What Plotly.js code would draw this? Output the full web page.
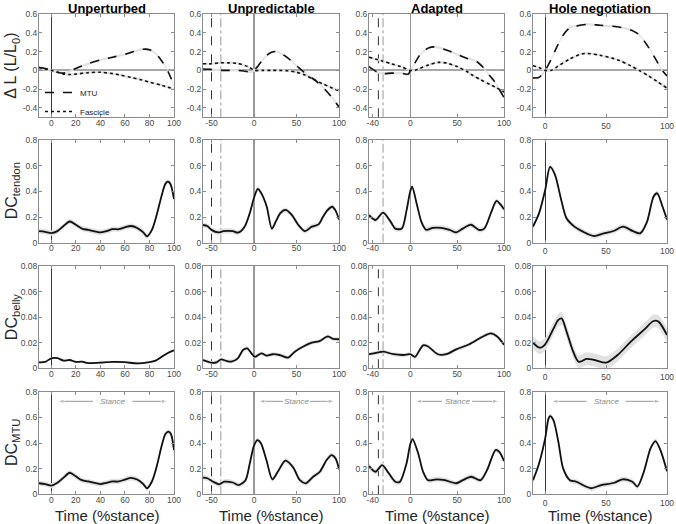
<!DOCTYPE html>
<html><head><meta charset="utf-8">
<script src="https://cdn.plot.ly/plotly-3.0.1.min.js"></script>
<style>html,body{margin:0;padding:0;background:#fff}#chart{width:676px;height:524px}</style>
</head><body><div id="chart"></div>
<script>
// ---------- DATA ----------
const conditions = ['Unperturbed', 'Unpredictable', 'Adapted', 'Hole negotiation'];
const rowTitles = ['Δ L (L/L<sub>0</sub>)', 'DC<sub>tendon</sub>', 'DC<sub>belly</sub>', 'DC<sub>MTU</sub>'];
const xTitle = 'Time (%stance)';
const seriesNames = ['MTU', 'Fascicle'];
const stanceLabel = 'Stance';

const xTickVals = [[0,20,40,60,80,100],[-50,0,50,100],[-40,0,50,100],[0,50,100]];
const xTickText = [['0','20','40','60','80','100'],['-50','0','50','100'],['-40','0','50','100'],['0','50','100']];
const yTickVals = [[-0.4,-0.2,0,0.2,0.4,0.6],[0,0.2,0.4,0.6,0.8],[0,0.02,0.04,0.06,0.08],[0,0.2,0.4,0.6,0.8]];
const yTickText = [['-0.4','-0.2','0','0.2','0.4','0.6'],['0','0.2','0.4','0.6','0.8'],['0','0.02','0.04','0.06','0.08'],['0','0.2','0.4','0.6','0.8']];

// event markers (% stance) per condition
const eventDashed  = [null, -50, -34, null];
const eventDashDot = [null, -39, -29, null];
// stance arrow: [tail, head] pairs (% stance) and height
const stanceLeft  = [34, 5];
const stanceRight = [66, 95];
const stanceY = 0.725;

// Row 1: length change
const unp_mtu_x = [-10,-5,0,5,10,15,20,30,40,50,60,70,75,80,85,90,95,100];
const unp_mtu   = [0.03,0.02,0,-0.02,-0.03,-0.01,0.02,0.07,0.11,0.14,0.17,0.21,0.225,0.22,0.18,0.1,-0.01,-0.16];
const unp_fas_x = [-10,-5,0,5,10,15,20,30,40,50,56,65,73,80,90,100];
const unp_fas   = [0.03,0.015,0,-0.02,-0.04,-0.045,-0.04,-0.025,-0.02,-0.035,-0.05,-0.075,-0.1,-0.125,-0.16,-0.2];

const upr_mtu_x = [-60,-50,-40,-30,-20,-10,-3,0,5,10,15,20,25,30,40,50,60,72,80,90,100];
const upr_mtu   = [0.015,0.01,0.0,0.0,0.0,-0.01,-0.02,0.0,0.05,0.11,0.16,0.19,0.2,0.19,0.13,0.05,-0.03,-0.107,-0.17,-0.27,-0.39];
const upr_fas_x = [-60,-50,-40,-30,-20,-10,-5,0,10,20,30,40,50,60,72,80,90,100];
const upr_fas   = [0.07,0.07,0.08,0.08,0.075,0.05,0.03,0.0,0.0,0.0,0.0,-0.005,-0.02,-0.05,-0.105,-0.14,-0.18,-0.22];

const ada_mtu_x = [-44,-40,-35,-30,-20,-10,-2,0,5,10,15,20,25,30,40,50,60,70,77,85,90,100];
const ada_mtu   = [0.04,0.01,-0.02,-0.035,-0.03,-0.03,-0.04,0.0,0.08,0.16,0.21,0.24,0.25,0.245,0.21,0.17,0.13,0.1,0.04,-0.06,-0.12,-0.29];
const ada_fas_x = [-44,-30,-20,-10,0,5,10,20,30,40,50,60,66,75,85,91,100];
const ada_fas   = [0.14,0.1,0.07,0.04,0.0,0.0,0.02,0.06,0.085,0.075,0.04,-0.01,-0.05,-0.1,-0.15,-0.18,-0.23];

const hol_mtu_x = [-10,-5,0,5,10,15,20,25,35,45,55,65,72,77,82,87,92,96,100];
const hol_mtu   = [-0.08,-0.075,0.0,0.12,0.26,0.38,0.45,0.47,0.49,0.48,0.47,0.45,0.42,0.38,0.3,0.2,0.09,0.0,-0.06];
const hol_fas_x = [-10,-5,0,5,10,20,30,35,45,55,61,70,77,85,92,100];
const hol_fas   = [0.05,0.03,0.0,0.0,0.04,0.12,0.175,0.18,0.16,0.13,0.105,0.05,0.0,-0.06,-0.12,-0.19];

// Row 2: DC tendon
const unp_ten_x = [-10,-5,0,5,10,15,20,25,30,40,45,50,55,60,65,70,75,78,82,86,90,93,95,97,100];
const unp_ten   = [0.09,0.085,0.075,0.09,0.13,0.165,0.14,0.11,0.1,0.08,0.09,0.105,0.105,0.12,0.13,0.115,0.08,0.05,0.1,0.22,0.37,0.46,0.475,0.46,0.34];
const upr_ten_x = [-60,-55,-50,-42,-36,-25,-19,-11,-5,0,4.5,9,15,21,26,31,37,44,52,60,68,76,81,86,92,96,100];
const upr_ten   = [0.138,0.13,0.1,0.08,0.09,0.09,0.078,0.125,0.23,0.35,0.42,0.38,0.28,0.11,0.17,0.23,0.255,0.22,0.14,0.09,0.125,0.143,0.2,0.25,0.28,0.25,0.18];
const ada_ten_x = [-44,-37,-29,-21,-16,-9,-4,0,2,7,12,17,24,33,42,49,56,65,73,79,86,92,96,100];
const ada_ten   = [0.215,0.177,0.234,0.164,0.11,0.11,0.25,0.4,0.436,0.3,0.16,0.1,0.115,0.115,0.1,0.08,0.11,0.14,0.1,0.11,0.23,0.325,0.3,0.26];
const hol_ten_x = [-10,-5,0,4,8,13.5,17.5,24,31,40,48,56,64,72,78,83.5,89,92,96,100];
const hol_ten   = [0.125,0.23,0.41,0.59,0.53,0.32,0.19,0.125,0.086,0.052,0.073,0.091,0.125,0.09,0.073,0.16,0.36,0.385,0.29,0.18];

// Row 3: DC belly
const unp_bel_x = [-10,-5,0,5,10,15,20,25,30,40,50,60,70,80,85,90,95,100];
const unp_bel   = [0.0047,0.005,0.0078,0.008,0.006,0.0065,0.005,0.0052,0.004,0.0045,0.005,0.0048,0.0038,0.0048,0.006,0.009,0.012,0.014];
const upr_bel_x = [-60,-50,-44,-38.7,-32.5,-26.7,-19,-13,-8,-3,1,5,9,15,22,30,40,48,58,68,77,87,93,100];
const upr_bel   = [0.0065,0.0044,0.0047,0.007,0.0058,0.0053,0.0078,0.0143,0.0156,0.0117,0.009,0.0104,0.0117,0.0099,0.011,0.0104,0.0083,0.013,0.017,0.02,0.0213,0.025,0.023,0.0227];
const ada_bel_x = [-44,-34,-28.5,-18,-7.4,0,5,13.7,19,29.5,38.4,49,63,77,86,93,100];
const ada_bel   = [0.011,0.0125,0.013,0.011,0.0104,0.011,0.009,0.018,0.017,0.011,0.011,0.0148,0.0188,0.0247,0.0273,0.0247,0.0185];
const hol_bel_x = [-10,-4.6,0,6.8,10.8,13.5,17.6,23,27.6,33.8,40.5,50,59.5,70.3,81,89,93,100];
const hol_bel   = [0.02,0.0161,0.0188,0.031,0.0378,0.039,0.0286,0.013,0.005,0.0073,0.0065,0.0044,0.0104,0.0208,0.03,0.037,0.0365,0.026];

// Row 4: DC MTU
const unp_dmt_x = [-10,-5,0,5,10,15,20,25,30,40,45,50,55,60,65,70,75,78,82,86,90,93,95.5,97.5,100];
const unp_dmt   = [0.086,0.08,0.068,0.09,0.13,0.168,0.14,0.11,0.1,0.08,0.09,0.1,0.1,0.115,0.128,0.115,0.08,0.047,0.1,0.22,0.38,0.47,0.488,0.47,0.345];
const upr_dmt_x = [-60,-55,-48,-41,-35,-25,-18,-10,-5,0,4,8,14.6,21.6,28,37,46,54,61,69.6,77.5,85.4,91.3,96,100];
const upr_dmt   = [0.13,0.125,0.098,0.078,0.098,0.092,0.072,0.11,0.24,0.38,0.423,0.4,0.267,0.117,0.176,0.262,0.21,0.11,0.086,0.137,0.176,0.267,0.306,0.28,0.195];
const ada_dmt_x = [-44,-37,-30,-23,-16,-11,-4,0,2.5,8.4,13.7,19,28,37,49,56,65,75,82,91,95,100];
const ada_dmt   = [0.22,0.176,0.228,0.164,0.098,0.098,0.24,0.39,0.43,0.32,0.176,0.11,0.117,0.11,0.086,0.11,0.137,0.11,0.19,0.345,0.33,0.26];
const hol_dmt_x = [-10,-5.4,0,2.7,4,6.7,10.8,14.8,20.3,25.6,32.4,37.8,46,56.8,63.5,71.6,75.7,81,86.5,90.5,94.6,100];
const hol_dmt   = [0.11,0.228,0.436,0.59,0.61,0.58,0.41,0.2,0.11,0.098,0.065,0.047,0.072,0.09,0.117,0.098,0.06,0.176,0.358,0.415,0.345,0.18];

// shaded band half-width (SE estimate) per row / column
const bandHalf = [[0.012,0.012,0.012,0.012],[0.02,0.02,0.02,0.02],[0.0008,0.0015,0.0015,0.005],[0.02,0.02,0.02,0.02]];

// ---------- LAYOUT GEOMETRY ----------
const W = 676, H = 524;
const colPx = [[39,174],[203,339],[369,504],[533,667]];
const rowPx = [[14,117.3],[140,242.7],[266,368.3],[391.7,494.3]];
const xRanges = [[-10,100],[-60,100],[-44,100],[-10,100]];
const yRanges = [[-0.5,0.6],[0,0.8],[0,0.08],[0,0.8]];

const panels = [
  [[{x:unp_mtu_x,y:unp_mtu,dash:'dash',name:seriesNames[0]},{x:unp_fas_x,y:unp_fas,dash:'dot',name:seriesNames[1]}],
   [{x:upr_mtu_x,y:upr_mtu,dash:'dash'},{x:upr_fas_x,y:upr_fas,dash:'dot'}],
   [{x:ada_mtu_x,y:ada_mtu,dash:'dash'},{x:ada_fas_x,y:ada_fas,dash:'dot'}],
   [{x:hol_mtu_x,y:hol_mtu,dash:'dash'},{x:hol_fas_x,y:hol_fas,dash:'dot'}]],
  [[{x:unp_ten_x,y:unp_ten}],[{x:upr_ten_x,y:upr_ten}],[{x:ada_ten_x,y:ada_ten}],[{x:hol_ten_x,y:hol_ten}]],
  [[{x:unp_bel_x,y:unp_bel}],[{x:upr_bel_x,y:upr_bel}],[{x:ada_bel_x,y:ada_bel}],[{x:hol_bel_x,y:hol_bel}]],
  [[{x:unp_dmt_x,y:unp_dmt}],[{x:upr_dmt_x,y:upr_dmt}],[{x:ada_dmt_x,y:ada_dmt}],[{x:hol_dmt_x,y:hol_dmt}]]
];

const FONT = 'Liberation Sans, Arial, Helvetica, sans-serif';
const AXC = '#8c8c8c';
const TICKF = {size: 8.5, color: '#4a4a4a'};
const traces = [];
const layout = {
  width: W, height: H, margin: {l:0, r:0, t:0, b:0},
  paper_bgcolor: '#fff', plot_bgcolor: '#fff',
  font: {family: FONT, size: 9, color: '#4a4a4a'},
  showlegend: true,
  legend: {x: 40/W, y: 1 - 78/H, xanchor: 'left', yanchor: 'top', bgcolor: 'rgba(0,0,0,0)',
           font: {size: 8, color: '#222'}, itemwidth: 30, tracegroupgap: 0},
  shapes: [], annotations: []
};

for (let r = 0; r < 4; r++) {
  for (let c = 0; c < 4; c++) {
    const n = r*4 + c + 1;
    const sfx = n === 1 ? '' : String(n);
    const xa = 'x' + sfx, ya = 'y' + sfx;
    const lightZero = (c === 1 || c === 2);
    const xax = {
      domain: [colPx[c][0]/W, colPx[c][1]/W], anchor: ya, range: xRanges[c],
      tickvals: xTickVals[c], ticktext: xTickText[c], ticklabeloverflow: 'allow',
      showline: true, linecolor: AXC, linewidth: 1, mirror: 'ticks',
      ticks: 'inside', ticklen: 3, tickcolor: AXC, showgrid: false,
      zeroline: true, zerolinecolor: lightZero ? '#9a9a9a' : '#3a3a3a', zerolinewidth: lightZero ? 1.5 : 1,
      tickfont: TICKF, fixedrange: true
    };
    if (c < 3) xax.ticklabelstandoff = -3;
    layout['xaxis' + sfx] = xax;
    layout['yaxis' + sfx] = {
      domain: [1 - rowPx[r][1]/H, 1 - rowPx[r][0]/H], anchor: xa, range: yRanges[r],
      tickvals: yTickVals[r], ticktext: yTickText[r], ticklabelstandoff: -1,
      showline: true, linecolor: AXC, linewidth: 1, mirror: 'ticks',
      ticks: 'inside', ticklen: 3, tickcolor: AXC, showgrid: false,
      zeroline: r === 0, zerolinecolor: '#a8a8a8', zerolinewidth: 2,
      tickfont: TICKF, fixedrange: true
    };
    // event lines
    if (eventDashed[c] !== null && !(r === 1 && c === 2)) {
      layout.shapes.push({type:'line', xref: xa, yref: ya + ' domain', x0: eventDashed[c], x1: eventDashed[c], y0: 0, y1: 1,
        line: {color: '#333', width: 1, dash: 'dash'}, layer: 'below'});
    }
    if (eventDashDot[c] !== null) {
      layout.shapes.push({type:'line', xref: xa, yref: ya + ' domain', x0: eventDashDot[c], x1: eventDashDot[c], y0: 0, y1: 1,
        line: {color: '#9a9a9a', width: 1, dash: 'dashdot'}, layer: 'below'});
    }
    // curves
    const hw = bandHalf[r][c];
    panels[r][c].forEach(cv => {
      const up = cv.y.map(v => v + hw), lo = cv.y.map(v => v - hw);
      traces.push({x: cv.x.concat(cv.x.slice().reverse()), y: up.concat(lo.slice().reverse()),
        xaxis: xa, yaxis: ya, mode: 'lines', fill: 'toself', fillcolor: '#e2e2e2',
        line: {width: 0, shape: 'spline', smoothing: 0.8}, hoverinfo: 'skip', showlegend: false});
    });
    panels[r][c].forEach(cv => {
      traces.push({x: cv.x, y: cv.y, xaxis: xa, yaxis: ya, mode: 'lines',
        name: cv.name || '', showlegend: !!cv.name,
        line: {color: '#111', width: r === 0 ? 1.6 : 1.8, dash: cv.dash || 'solid', shape: 'spline', smoothing: 0.8}});
    });
    // stance arrows in bottom row
    if (r === 3) {
      layout.annotations.push({xref: xa, yref: ya, x: 50, y: stanceY, text: '<i>' + stanceLabel + '</i>', showarrow: false,
        font: {size: 8, color: '#8a8a8a'}});
      [stanceLeft, stanceRight].forEach(seg => {
        traces.push({x: seg, y: [stanceY, stanceY], xaxis: xa, yaxis: ya, mode: 'lines+markers',
          line: {color: '#9a9a9a', width: 1}, showlegend: false, hoverinfo: 'skip',
          marker: {symbol: 'arrow', angleref: 'previous', size: [0, 7], color: '#9a9a9a'}});
      });
      layout.annotations.push({xref: 'paper', yref: 'paper', x: (colPx[c][0] + colPx[c][1]) / 2 / W, y: 1 - 515/H,
        text: xTitle, showarrow: false, xanchor: 'center', yanchor: 'middle', font: {size: 15, color: '#262626'}});
    }
  }
  layout.annotations.push({xref: 'paper', yref: 'paper', x: 12/W, y: 1 - (rowPx[r][0] + rowPx[r][1]) / 2 / H,
    text: rowTitles[r], textangle: -90, showarrow: false, xanchor: 'center', yanchor: 'middle',
    font: {size: 16, color: '#262626'}});
}
for (let c = 0; c < 4; c++) {
  layout.annotations.push({xref: 'paper', yref: 'paper', x: (colPx[c][0] + colPx[c][1]) / 2 / W, y: 1 - 8/H,
    text: '<b>' + conditions[c] + '</b>', showarrow: false, xanchor: 'center', yanchor: 'middle',
    font: {size: 13, color: '#000'}});
}

Plotly.newPlot('chart', traces, layout, {displayModeBar: false, staticPlot: true});
</script></body></html>
